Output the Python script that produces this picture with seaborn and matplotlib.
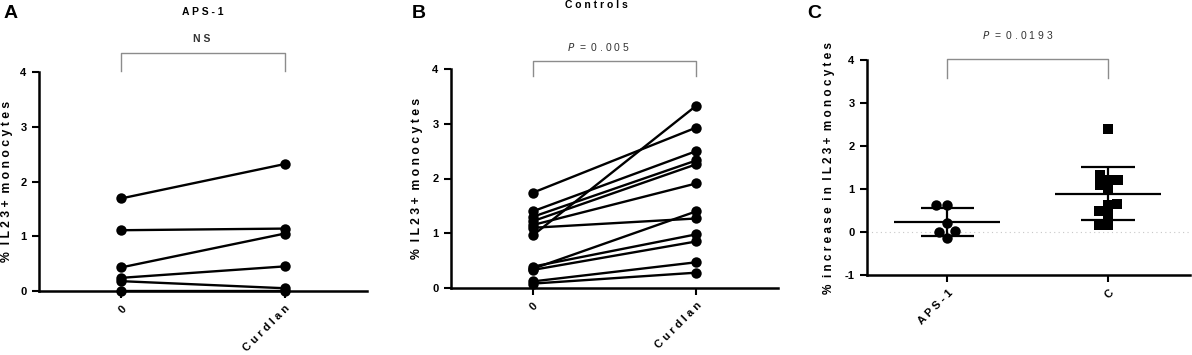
import numpy as np
import pandas as pd
import matplotlib
matplotlib.use("Agg")
import matplotlib.pyplot as plt
import seaborn as sns

# --- data ---
conditions = ["0", "Curdlan"]
aps_before = [1.69, 1.11, 0.43, 0.24, 0.18, 0.00]
aps_after = [2.32, 1.14, 1.05, 0.45, 0.05, 0.00]
ctrl_before = [1.74, 0.96, 1.40, 1.30, 1.22, 1.15, 1.10, 0.35, 0.39, 0.33, 0.12, 0.08]
ctrl_after = [2.93, 3.33, 2.50, 2.33, 2.26, 1.91, 1.27, 1.40, 0.98, 0.85, 0.47, 0.28]

groups = ["APS-1", "C"]
increase_aps = [0.62, 0.62, 0.22, 0.03, 0.01, -0.14]
increase_ctrl = [2.40, 1.32, 1.22, 1.22, 1.09, 0.97, 0.63, 0.66, 0.49, 0.40, 0.16, 0.17]

FONT = "Liberation Sans"
plt.rcParams["font.family"] = [FONT, "DejaVu Sans"]
TICK_FS = 8


def spaced(s):
    # mimic the wide letter spacing of the original
    return "  ".join(" ".join(w) for w in s.split(" "))


def style_axes(ax, yticks):
    sns.despine(ax=ax)
    for side in ["left", "bottom"]:
        ax.spines[side].set_linewidth(1.8)
        ax.spines[side].set_color("black")
    ax.set_yticks(yticks)
    ax.set_yticklabels([str(t) for t in yticks], fontsize=TICK_FS, fontweight="bold")
    ax.tick_params(axis="both", length=5, width=1.5, color="black", pad=4)
    ax.grid(False)


def bracket(ax, y_low, y_top, text, text_y, text_x, italic_p=False):
    ax.plot([0, 0, 1, 1], [y_low, y_top, y_top, y_low], color="#8c8c8c",
            lw=1.0, clip_on=False)
    ax.text(text_x, text_y, text, ha="center", va="center", fontsize=7.5,
            color="#333333", fontweight="bold" if not italic_p else "normal")


def paired_panel(ax, before, after, ylabel_x):
    n = len(before)
    df = pd.DataFrame({
        "subject": list(range(n)) * 2,
        "condition": [conditions[0]] * n + [conditions[1]] * n,
        "value": before + after,
    })
    sns.lineplot(data=df, x="condition", y="value", units="subject",
                 estimator=None, color="black", lw=1.7, marker="o",
                 markersize=7.5, markeredgewidth=0, ax=ax, clip_on=False)
    ax.set_xlim(-0.5, 1.5)
    ax.set_ylim(0, 4)
    style_axes(ax, [0, 1, 2, 3, 4])
    ax.set_xticks([0, 1])
    ax.set_xticklabels([spaced(c) for c in conditions], rotation=45,
                       ha="right", rotation_mode="anchor", fontsize=TICK_FS,
                       fontweight="bold")
    ax.set_xlabel("")
    ax.set_ylabel(spaced("% IL23+ monocytes"), fontsize=8.8, fontweight="bold")
    ax.yaxis.set_label_coords(ylabel_x, 0.5)


fig = plt.figure(figsize=(11.92, 3.55), dpi=100)
axA = fig.add_axes([39 / 1192, 64 / 355, 328 / 1192, 219 / 355])
axB = fig.add_axes([451 / 1192, 67 / 355, 327 / 1192, 219 / 355])
axC = fig.add_axes([867 / 1192, 80 / 355, 323 / 1192, 215 / 355])

# panel A
paired_panel(axA, aps_before, aps_after, -0.079)
bracket(axA, 4.02, 4.35, spaced("NS"), 4.6, 0.49)
axA.text(0.5, 5.1, spaced("APS-1"), ha="center", va="center", fontsize=7.5,
         fontweight="bold")

# panel B
paired_panel(axB, ctrl_before, ctrl_after, -0.086)
bracket(axB, 3.88, 4.15, "$P$  =  0 . 0 0 5", 4.4, 0.40, italic_p=True)
axB.text(0.39, 5.16, spaced("Controls"), ha="center", va="center",
         fontsize=7.5, fontweight="bold")

# panel C
dfC = pd.DataFrame({
    "group": [groups[0]] * len(increase_aps) + [groups[1]] * len(increase_ctrl),
    "value": increase_aps + increase_ctrl,
})
axC.axhline(0, color="#c8c8c8", ls=(0, (1, 3)), lw=0.8, zorder=0)
sns.swarmplot(data=dfC[dfC["group"] == groups[0]], x="group", y="value",
              order=groups, marker="o", color="black", size=7.5, ax=axC,
              clip_on=False)
sns.swarmplot(data=dfC[dfC["group"] == groups[1]], x="group", y="value",
              order=groups, marker="s", color="black", size=6.5, ax=axC,
              clip_on=False)
for i, vals in enumerate([increase_aps, increase_ctrl]):
    m = np.mean(vals)
    s = np.std(vals, ddof=1)
    axC.hlines(m, i - 0.33, i + 0.33, color="black", lw=1.6, zorder=3)
    axC.hlines([m - s, m + s], i - 0.167, i + 0.167, color="black", lw=1.6,
               zorder=3)
    axC.vlines(i, m - s, m + s, color="black", lw=1.6, zorder=3)
axC.set_xlim(-0.5, 1.51)
axC.set_ylim(-1, 4)
style_axes(axC, [-1, 0, 1, 2, 3, 4])
axC.set_xticks([0, 1])
axC.set_xticklabels([spaced(g) for g in groups], rotation=45, ha="right",
                    rotation_mode="anchor", fontsize=TICK_FS, fontweight="bold")
axC.set_xlabel("")
axC.set_ylabel(spaced("% increase in IL23+ monocytes"), fontsize=8.5,
               fontweight="bold")
axC.yaxis.set_label_coords(-0.099, 0.5)
bracket(axC, 3.59, 4.02, "$P$  =  0 . 0 1 9 3", 4.57, 0.435, italic_p=True)

# panel letters
for x, lab in [(4, "A"), (412, "B"), (807, "C")]:
    fig.text(x / 1192, 1 - 14 / 355, lab, fontsize=14, fontweight="bold",
             va="center", ha="left")

fig.savefig("out.png", dpi=100)
